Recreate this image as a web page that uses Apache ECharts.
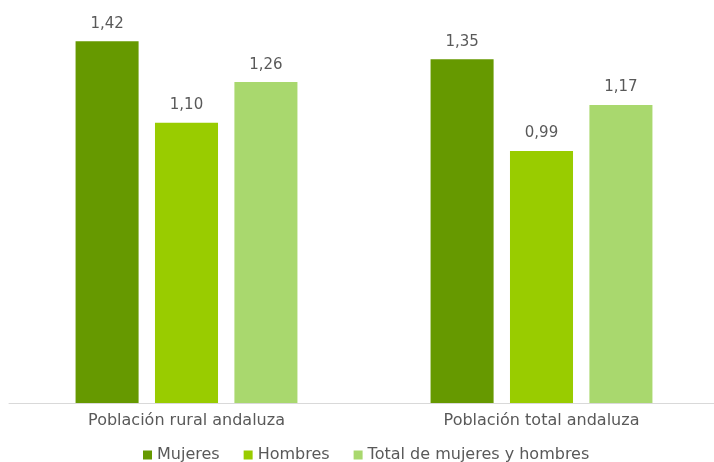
<!DOCTYPE html>
<html><head><meta charset="utf-8">
<script src="https://cdn.jsdelivr.net/npm/echarts@6/dist/echarts.min.js"></script>
<style>html,body{margin:0;padding:0;background:#fff;overflow:hidden;width:714px;height:462px}#c{width:724px;height:462px}</style>
</head><body><div id="c"></div>
<script>
const categories = ["Población rural andaluza", "Población total andaluza"];
const mujeres = [1.42, 1.35];
const hombres = [1.10, 0.99];
const total = [1.26, 1.17];
const seriesNames = ["Mujeres", "Hombres", "Total de mujeres y hombres"];
const colors = ["#669900", "#99cc00", "#a9d86e"];

const font = "DejaVu Sans";
const fmt = p => p.value.toFixed(2).replace('.', ',');
function mk(name, data, color) {
  return {
    name, type: 'bar', data, barGap: '26%', barCategoryGap: '37.5%',
    itemStyle: { color },
    label: { show: true, position: 'top', distance: 10, formatter: fmt,
      color: '#595959', fontSize: 15, fontFamily: font }
  };
}
const chart = echarts.init(document.getElementById('c'));
chart.setOption({
  animation: false,
  grid: { left: 9, right: 5, top: 21, bottom: 59, containLabel: false },
  legend: { top: 447, left: 143, padding: 0, itemWidth: 9, itemHeight: 9, itemGap: 24,
    icon: 'rect', textStyle: { color: '#595959', fontSize: 16, fontFamily: font },
    data: seriesNames },
  xAxis: { type: 'category', data: categories,
    axisLine: { lineStyle: { color: '#d9d9d9', width: 1 } },
    axisTick: { show: false },
    axisLabel: { color: '#595959', fontSize: 16, fontFamily: font, margin: 10 } },
  yAxis: { type: 'value', min: 0, max: 1.5, show: false, splitLine: { show: false } },
  series: [mk(seriesNames[0], mujeres, colors[0]), mk(seriesNames[1], hombres, colors[1]), mk(seriesNames[2], total, colors[2])]
});
</script></body></html>
